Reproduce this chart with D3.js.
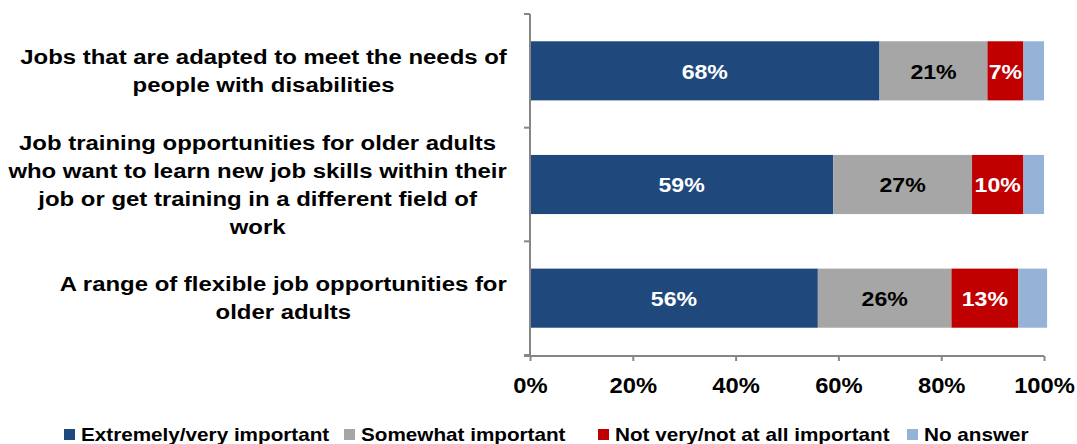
<!DOCTYPE html>
<html>
<head>
<meta charset="utf-8">
<script src="https://cdn.jsdelivr.net/npm/d3@7"></script>
<style>
  html, body { margin: 0; padding: 0; background: #fff; }
  svg { display: block; font-family: "Liberation Sans", Arial, sans-serif; font-weight: bold; }
</style>
</head>
<body>
<svg id="chart" width="1077" height="444"></svg>
<script>
const categories = [
  ["Jobs that are adapted to meet the needs of", "people with disabilities"],
  ["Job training opportunities for older adults", "who want to learn new job skills within their", "job or get training in a different field of", "work"],
  ["A range of flexible job opportunities for", "older adults"]
];
const seriesNames = ["Extremely/very important", "Somewhat important", "Not very/not at all important", "No answer"];
const extremely = [68, 59, 56];
const somewhat = [21, 27, 26];
const notVery = [7, 10, 13];
const noAnswer = [4, 4, 5.6];
const tickLabels = ["0%", "20%", "40%", "60%", "80%", "100%"];
const colors = ["#1F497D", "#A6A6A6", "#C00000", "#95B3D7"];
const labelColors = ["#ffffff", "#000000", "#ffffff", null];

const stretch = (cx, sx) => `translate(${cx},0) scale(${sx},1) translate(${-cx},0)`;

const svg = d3.select("#chart");
const x = d3.scaleLinear().domain([0, 100]).range([530, 1044]);
const y = d3.scaleBand().domain(d3.range(categories.length)).range([14, 355]).paddingInner(0.48).paddingOuter(0.24);

const rows = categories.map((c, i) => ({
  i, vals: [extremely[i], somewhat[i], notVery[i], noAnswer[i]]
}));
const stack = d3.stack().keys([0, 1, 2, 3]).value((d, k) => d.vals[k]);
const layers = stack(rows);

const DL_FS = 21, DL_SX = 1.1;
layers.forEach((layer, k) => {
  const g = svg.append("g");
  g.selectAll("rect").data(layer).join("rect")
    .attr("x", d => x(d[0]))
    .attr("y", d => y(d.data.i))
    .attr("width", d => x(d[1]) - x(d[0]))
    .attr("height", y.bandwidth())
    .attr("fill", colors[k]);
  if (labelColors[k]) {
    g.selectAll("text").data(layer).join("text")
      .attr("x", d => (x(d[0]) + x(d[1])) / 2)
      .attr("y", d => y(d.data.i) + y.bandwidth() / 2)
      .attr("transform", d => stretch((x(d[0]) + x(d[1])) / 2, DL_SX))
      .attr("dy", "0.37em")
      .attr("text-anchor", "middle")
      .attr("font-size", DL_FS)
      .attr("fill", labelColors[k])
      .text(d => d.data.vals[k] + "%");
  }
});

// Axes
const axisColor = "#868686";
const xAxis = svg.append("g").attr("transform", "translate(0,356)")
  .call(d3.axisBottom(x).tickValues([0, 20, 40, 60, 80, 100]).tickFormat((d, i) => tickLabels[i]).tickSize(5).tickSizeOuter(0));
xAxis.select(".domain").attr("stroke", axisColor).attr("stroke-width", 2).attr("d", "M" + (x(0) - 6) + ",0H" + x(100));
xAxis.selectAll(".tick line").attr("stroke", axisColor).attr("stroke-width", 2);
xAxis.selectAll(".tick text").attr("font-size", 22).attr("font-weight", "bold").attr("fill", "#000")
  .attr("font-family", "'Liberation Sans', Arial, sans-serif").attr("dy", "1.32em")
  .attr("transform", "scale(1.08,1)");

const yAxis = svg.append("g").attr("transform", "translate(" + x(0) + ",0)");
yAxis.append("line").attr("x1", 0).attr("x2", 0).attr("y1", 14).attr("y2", 356).attr("stroke", axisColor).attr("stroke-width", 2);
const yTicks = d3.range(categories.length + 1).map(i => 14 + i * (341 / categories.length));
yAxis.selectAll("line.t").data(yTicks).join("line").attr("class", "t")
  .attr("x1", -6).attr("x2", 0).attr("y1", d => d).attr("y2", d => d)
  .attr("stroke", axisColor).attr("stroke-width", 2);

// Category labels: block right-aligned, lines centred
const CL_FS = 21, CL_SX = 1.14;
const lh = 28;
const labelG = svg.append("g");
categories.forEach((lines, i) => {
  const widths = lines.map(l => {
    const s = labelG.append("text").attr("font-size", CL_FS).text(l);
    const w = s.node().getComputedTextLength(); s.remove(); return w * CL_SX;
  });
  const maxW = d3.max(widths);
  const cx = 507 - maxW / 2;
  const cy = y(i) + y.bandwidth() / 2;
  const y0 = cy - (lines.length - 1) * lh / 2;
  const t = labelG.append("text").attr("font-size", CL_FS).attr("fill", "#000").attr("text-anchor", "middle")
    .attr("transform", stretch(cx, CL_SX));
  lines.forEach((l, j) => {
    t.append("tspan").attr("x", cx).attr("y", y0 + j * lh).attr("dy", "0.34em").text(l);
  });
});

// Legend
const legendX = [64, 344, 598, 907];
const lg = svg.append("g");
seriesNames.forEach((n, k) => {
  lg.append("rect").attr("x", legendX[k]).attr("y", 429).attr("width", 11).attr("height", 11).attr("fill", colors[k]);
  lg.append("text").attr("x", legendX[k] + 17).attr("y", 441).attr("font-size", 18)
    .attr("transform", stretch(legendX[k] + 17, 1.15)).attr("fill", "#000").text(n);
});
</script>
</body>
</html>
